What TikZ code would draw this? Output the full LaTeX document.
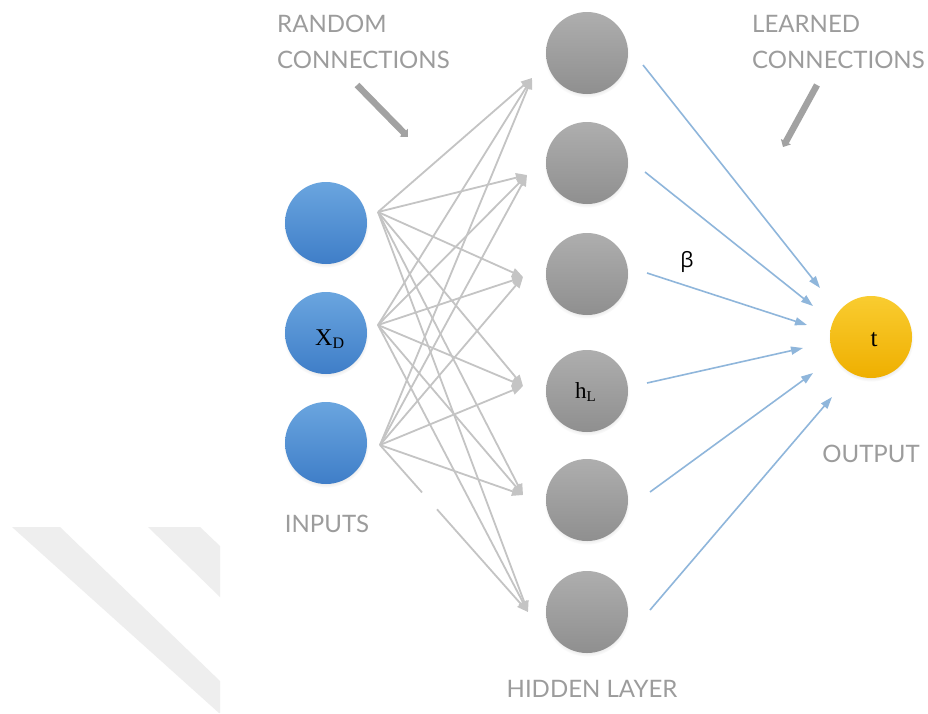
\documentclass[tikz,border=0pt]{standalone}
\usepackage{fontspec}
\setmainfont{Liberation Serif}
\newfontfamily\labfont{Lato}
\newfontfamily\greekfont{Open Sans}
\usetikzlibrary{arrows.meta,shadows,calc}
\definecolor{txtgray}{HTML}{9C9C9C}
\definecolor{linegray}{HTML}{C4C4C4}
\definecolor{lblue}{HTML}{8FB6DB}
\definecolor{bluetop}{HTML}{6AA5DF}
\definecolor{bluebot}{HTML}{3F7EC8}
\definecolor{graytop}{HTML}{AEAEAE}
\definecolor{graybot}{HTML}{8F8F8F}
\definecolor{yeltop}{HTML}{F9CC30}
\definecolor{yelbot}{HTML}{EFAF00}
\definecolor{wm}{HTML}{EEEEEE}
\definecolor{callout}{HTML}{A2A2A2}
\begin{document}
\begin{tikzpicture}[x=1pt,y=-1pt,
  neuron/.style={circle,minimum size=82pt,inner sep=0pt,
    circular drop shadow={shadow xshift=0pt,shadow yshift=-2pt,opacity=0.22,shadow scale=1.04}},
  innode/.style={neuron,top color=bluetop,bottom color=bluebot},
  hidnode/.style={neuron,top color=graytop,bottom color=graybot},
  outnode/.style={neuron,top color=yeltop,bottom color=yelbot},
  caption/.style={font=\labfont\fontsize{24}{24}\selectfont,text=txtgray,inner sep=0pt,anchor=base west},
  randline/.style={draw=linegray,line width=1.8pt},
  rand/.style={randline,-{Triangle[length=11pt,width=9pt]}},
  learn/.style={draw=lblue,line width=1.6pt,-{Triangle[length=12pt,width=8pt]}},
  pointer/.style={draw=callout,line width=6.5pt,-{Triangle[length=6pt,width=11pt]}},
  mathlab/.style={inner sep=0pt,text=black}
]
\fill[white] (0,0) rectangle (928,713);
\useasboundingbox (0,0) rectangle (928,713);

% watermark stripes
\fill[wm] (12,527) -- (60,527) -- (220,681) -- (220,713) -- (219,713) -- cycle;
\fill[wm] (148,527) -- (200,527) -- (220,546) -- (220,597) -- cycle;

% neurons
\node[innode] (i1) at (326,223) {};
\node[innode] (i2) at (326,333) {};
\node[innode] (i3) at (326,443) {};
\node[hidnode] (h1) at (587,53) {};
\node[hidnode] (h2) at (587,163) {};
\node[hidnode] (h3) at (587,274) {};
\node[hidnode] (h4) at (587,391) {};
\node[hidnode] (h5) at (587,500) {};
\node[hidnode] (h6) at (587,612) {};
\node[outnode] (o) at (871,337) {};

% connector end points
\coordinate (s1) at (378,212);
\coordinate (s2) at (378,325);
\coordinate (s3) at (380,445);
\coordinate (t1) at (532,78);
\coordinate (t2) at (527,175);
\coordinate (t3) at (523,277);
\coordinate (t4) at (523,386);
\coordinate (t5) at (523,495);
\coordinate (t6) at (528,612);

% random connections
\foreach \s in {s1,s2} {
  \foreach \t in {t1,t2,t3,t4,t5,t6} {
    \draw[rand] (\s) -- (\t);
  }
}
\foreach \t in {t1,t2,t3,t4,t5} {
  \draw[rand] (s3) -- (\t);
}
\draw[randline] (s3) -- ($(s3)!0.284!(t6)$);
\draw[rand] ($(s3)!0.385!(t6)$) -- (t6);

% learned connections
\coordinate (b1s) at (643,65);  \coordinate (b1e) at (820,288);
\coordinate (b2s) at (645,172); \coordinate (b2e) at (813,306);
\coordinate (b3s) at (647,273); \coordinate (b3e) at (807,325);
\coordinate (b4s) at (647,383); \coordinate (b4e) at (803,348);
\coordinate (b5s) at (650,492); \coordinate (b5e) at (813,373);
\coordinate (b6s) at (650,610); \coordinate (b6e) at (832,397);
\foreach \i in {1,...,6} {
  \draw[learn] (b\i s) -- (b\i e);
}

% callout arrows
\coordinate (r1) at (357,85);  \coordinate (r2) at (408,137);
\coordinate (l1) at (817,85);  \coordinate (l2) at (783,147);
\draw[pointer] (r1) -- (r2);
\draw[pointer] (l1) -- (l2);

% captions
\node[caption] (rnd1) at (277,32) {RANDOM};
\node[caption] (rnd2) at (277,68) {CONNECTIONS};
\node[caption] (lrn1) at (752,32) {LEARNED};
\node[caption] (lrn2) at (752,68) {CONNECTIONS};
\node[caption,anchor=base] (inp) at (327,532) {INPUTS};
\node[caption,anchor=base] (hid) at (592,697) {HIDDEN LAYER};
\node[caption,anchor=base] (outl) at (871,462) {OUTPUT};

% symbols
\node[mathlab,anchor=base west] (xd) at (315,345)
  {\fontsize{24}{24}\selectfont X\raisebox{-3pt}{\fontsize{16}{16}\selectfont D}};
\node[mathlab,anchor=base west] (hl) at (575,398)
  {\fontsize{23}{23}\selectfont h\raisebox{-3pt}{\fontsize{15}{15}\selectfont L}};
\node[mathlab,anchor=base] (tl) at (874,346) {\fontsize{25}{25}\selectfont t};
\node[mathlab] (beta) at (687,262) {\greekfont\fontsize{21}{21}\selectfont β};
\end{tikzpicture}
\end{document}
